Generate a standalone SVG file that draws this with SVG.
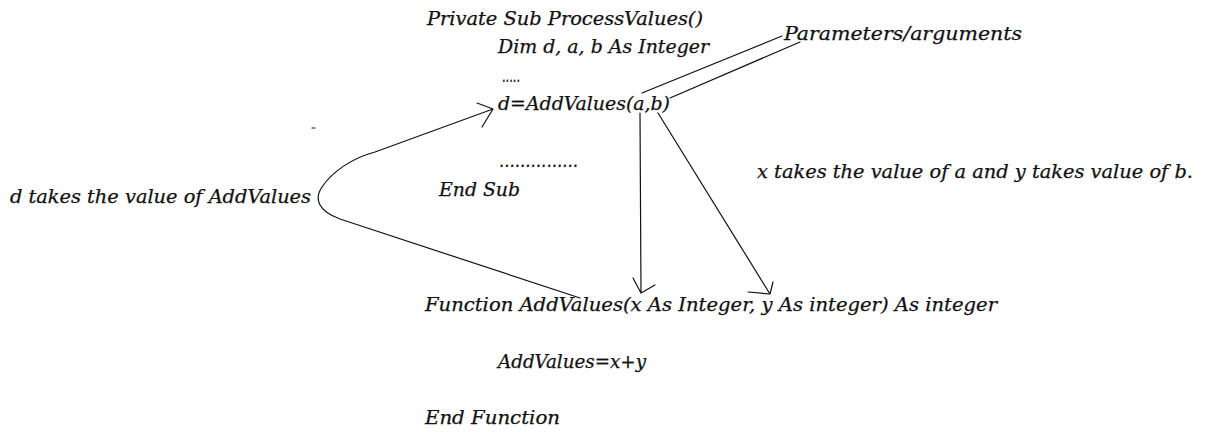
<svg xmlns="http://www.w3.org/2000/svg" width="1205" height="432" viewBox="0 0 1205 432">
<style>
text{font-family:"DejaVu Serif Condensed","DejaVu Serif","Liberation Serif",serif;font-style:italic;font-size:19px;fill:#111;stroke:#111;stroke-width:0.25}
.ln{fill:none;stroke:#111;stroke-width:1.2;stroke-linecap:round;stroke-linejoin:round}
</style>
<rect width="1205" height="432" fill="#fff"/>
<g id="sub-block">
<text x="427" y="25" textLength="276" lengthAdjust="spacingAndGlyphs">Private Sub ProcessValues()</text>
<text x="498" y="53" textLength="211" lengthAdjust="spacingAndGlyphs">Dim d, a, b As Integer</text>
<text x="502" y="82" textLength="18" lengthAdjust="spacingAndGlyphs">.....</text>
<text x="498" y="110" textLength="172" lengthAdjust="spacingAndGlyphs">d=AddValues(a,b)</text>
<text x="499" y="167" textLength="79" lengthAdjust="spacingAndGlyphs">……………</text>
<text x="439" y="196" textLength="81" lengthAdjust="spacingAndGlyphs">End Sub</text>
</g>
<g id="params-label">
<text x="784" y="40" textLength="238" lengthAdjust="spacingAndGlyphs">Parameters/arguments</text>
</g>
<g id="xy-note">
<text x="757" y="178" textLength="436" lengthAdjust="spacingAndGlyphs">x takes the value of a and y takes value of b.</text>
</g>
<g id="d-note">
<text x="10" y="203" textLength="301" lengthAdjust="spacingAndGlyphs">d takes the value of AddValues</text>
</g>
<g id="function-block">
<text x="425" y="311" textLength="572" lengthAdjust="spacingAndGlyphs">Function AddValues(x As Integer, y As integer) As integer</text>
<text x="498" y="368" textLength="148" lengthAdjust="spacingAndGlyphs">AddValues=x+y</text>
<text x="425" y="424" textLength="135" lengthAdjust="spacingAndGlyphs">End Function</text>
</g>
<g id="connectors">
<path class="ln" d="M782,36 L642,93"/>
<path class="ln" d="M800,42 L670,98"/>
<path class="ln" d="M640,113 L641,293 M633,278 L641,293 L655,285"/>
<path class="ln" d="M658,113 L770,294 M773,282 L770,294 L748,292"/>
<path class="ln" d="M580,298 L340,219 C318,211 314,199 322,187 C332,172 352,158 375,152 L493,109 M477,103 L493,109 L482,127"/>
<path class="ln" d="M312,128 L315,128"/>
</g>
</svg>
